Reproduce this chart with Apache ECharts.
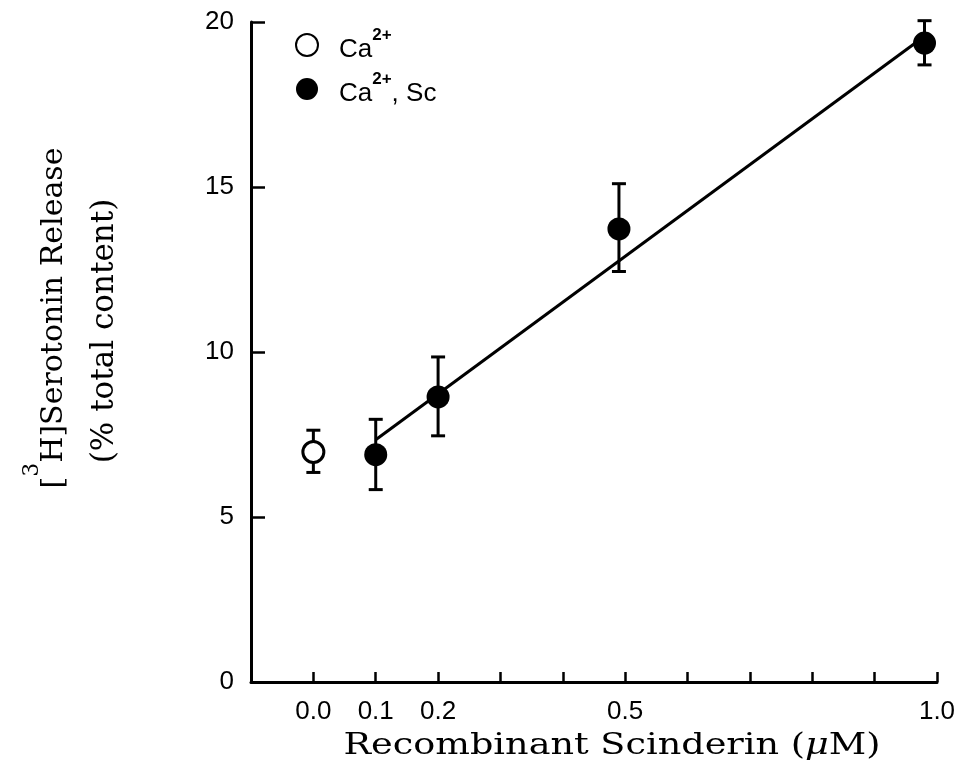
<!DOCTYPE html>
<html>
<head>
<meta charset="utf-8">
<script src="https://cdn.jsdelivr.net/npm/echarts@6/dist/echarts.min.js"></script>
<style>
    html, body { margin: 0; padding: 0; background: #fff; }
    #main { width: 960px; height: 765px; }
</style>
</head>
<body>
<div id="main"></div>
<script>
    // x tick labels that are printed (ticks every 0.1)
    var xTickLabels = ['0.0', '0.1', '0.2', '0.5', '1.0'];

    // Ca2+ alone (open circle)
    var caX = [0.0];
    var caY = [6.97];
    var caLo = [6.35];
    var caHi = [7.63];

    // Ca2+ + scinderin (filled circles)
    var scX = [0.1, 0.2, 0.49, 0.98];
    var scY = [6.89, 8.64, 13.73, 19.36];
    var scLo = [5.83, 7.46, 12.44, 18.70];
    var scHi = [7.96, 9.85, 15.10, 20.04];

    // fitted line
    var fitX = [0.1, 0.98];
    var fitY = [7.34, 19.57];

    function pairs(xs, ys) {
        return xs.map(function (x, i) { return [x, ys[i]]; });
    }
    function bars(xs, lo, hi) {
        return xs.map(function (x, i) { return [x, lo[i], hi[i]]; });
    }

    var errData = bars(caX, caLo, caHi).concat(bars(scX, scLo, scHi));

    var chart = echarts.init(document.getElementById('main'));

    var option = {
        backgroundColor: '#fff',
        animation: false,
        grid: { left: 251, right: 23, top: 22, bottom: 83 },
        xAxis: {
            type: 'value',
            min: -0.1,
            max: 1.0,
            interval: 0.1,
            splitLine: { show: false },
            axisLine: { onZero: false, lineStyle: { color: '#000', width: 3 } },
            axisTick: { inside: true, length: 10, lineStyle: { color: '#000', width: 2.5 } },
            axisLabel: {
                margin: 17,
                color: '#000',
                fontSize: 26,
                fontFamily: 'Liberation Sans',
                formatter: function (v) {
                    var s = v.toFixed(1);
                    return xTickLabels.indexOf(s) >= 0 ? s : '';
                }
            }
        },
        yAxis: {
            type: 'value',
            min: 0,
            max: 20,
            interval: 5,
            splitLine: { show: false },
            axisLine: { onZero: false, lineStyle: { color: '#000', width: 3 } },
            axisTick: { inside: true, length: 14, lineStyle: { color: '#000', width: 2.5 } },
            axisLabel: {
                margin: 17,
                color: '#000',
                fontSize: 26,
                fontFamily: 'Liberation Sans'
            }
        },
        legend: {
            orient: 'vertical',
            left: 290,
            top: 22,
            itemWidth: 22,
            itemHeight: 22,
            itemGap: 8,
            icon: 'circle',
            data: ['Ca2+', 'Ca2+, Sc'],
            formatter: function (name) {
                if (name === 'Ca2+') return '{t|Ca}{s|2+}';
                return '{t|Ca}{s|2+}{t|, Sc}';
            },
            textStyle: {
                color: '#000',
                padding: [0, 0, 0, 16],
                rich: {
                    t: { fontSize: 26, fontFamily: 'Liberation Sans', color: '#000', lineHeight: 36, verticalAlign: 'bottom' },
                    s: { fontSize: 17, fontFamily: 'Liberation Sans', fontWeight: 'bold', color: '#000', verticalAlign: 'top', lineHeight: 36 }
                }
            }
        },
        graphic: [
            {
                type: 'text',
                x: 612,
                y: 746,
                scaleX: 1.22,
                style: {
                    text: 'Recombinant Scinderin ({i|μ}M)',
                    font: '30px "DejaVu Serif"',
                    fill: '#000',
                    textAlign: 'center',
                    textVerticalAlign: 'middle',
                    rich: {
                        i: { font: 'italic 30px "DejaVu Serif"', fill: '#000' }
                    }
                }
            },
            {
                type: 'text',
                x: 45,
                y: 318,
                rotation: Math.PI / 2,
                style: {
                    text: '{m|[}{s|3}{m|H]Serotonin Release}',
                    textAlign: 'center',
                    textVerticalAlign: 'middle',
                    rich: {
                        m: { font: '30px "DejaVu Serif"', fill: '#000', lineHeight: 48, verticalAlign: 'bottom' },
                        s: { font: '22px "DejaVu Serif"', fill: '#000', lineHeight: 48, verticalAlign: 'top' }
                    }
                }
            },
            {
                type: 'text',
                x: 105,
                y: 331,
                rotation: Math.PI / 2,
                style: {
                    text: '(% total content)',
                    font: '31px "DejaVu Serif"',
                    fill: '#000',
                    textAlign: 'center',
                    textVerticalAlign: 'middle'
                }
            }
        ],
        series: [
            {
                name: 'errorbars',
                type: 'custom',
                z: 1,
                data: errData,
                renderItem: function (params, api) {
                    var x = api.value(0);
                    var top = api.coord([x, api.value(2)]);
                    var bot = api.coord([x, api.value(1)]);
                    var w = 7;
                    var st = { stroke: '#000', lineWidth: 3 };
                    return {
                        type: 'group',
                        children: [
                            { type: 'line', shape: { x1: top[0], y1: top[1], x2: bot[0], y2: bot[1] }, style: st },
                            { type: 'line', shape: { x1: top[0] - w, y1: top[1], x2: top[0] + w, y2: top[1] }, style: st },
                            { type: 'line', shape: { x1: bot[0] - w, y1: bot[1], x2: bot[0] + w, y2: bot[1] }, style: st }
                        ]
                    };
                }
            },
            {
                name: 'fit',
                type: 'line',
                z: 2,
                data: pairs(fitX, fitY),
                showSymbol: false,
                symbol: 'none',
                lineStyle: { color: '#000', width: 3 }
            },
            {
                name: 'Ca2+',
                type: 'scatter',
                z: 3,
                symbol: 'circle',
                symbolSize: 21,
                data: pairs(caX, caY),
                itemStyle: { color: '#fff', borderColor: '#000', borderWidth: 3, opacity: 1 }
            },
            {
                name: 'Ca2+, Sc',
                type: 'scatter',
                z: 3,
                symbol: 'circle',
                symbolSize: 23,
                data: pairs(scX, scY),
                itemStyle: { color: '#000', opacity: 1 }
            }
        ]
    };

    chart.setOption(option);
</script>
</body>
</html>
